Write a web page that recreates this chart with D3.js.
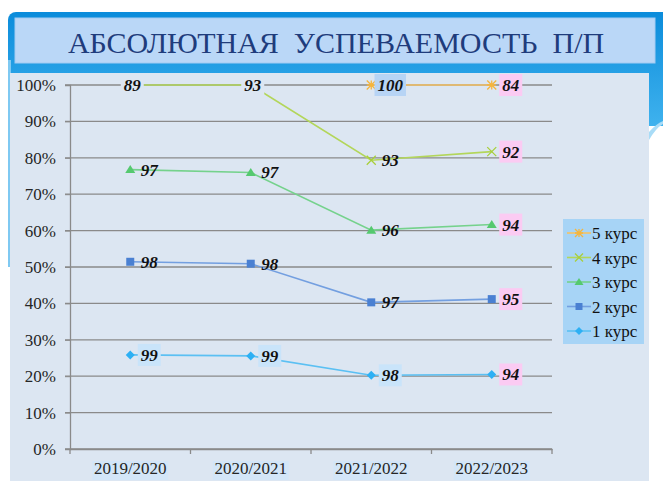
<!DOCTYPE html>
<html>
<head>
<meta charset="utf-8">
<script src="https://cdn.jsdelivr.net/npm/d3@7"></script>
<style>
  body { margin: 0; background: #fff; }
</style>
</head>
<body>
<div id="chart-area"></div>
<script>
// data
const years = ["2019/2020", "2020/2021", "2021/2022", "2022/2023"]
const kurs1 = [99, 99, 98, 94]
const kurs2 = [98, 98, 97, 95]
const kurs3 = [97, 97, 96, 94]
const kurs4 = [89, 93, 93, 92]
const kurs5 = [null, null, 100, 84]
const seriesNames = ["1 курс", "2 курс", "3 курс", "4 курс", "5 курс"]
const yTicks = [0, 0.1, 0.2, 0.3, 0.4, 0.5, 0.6, 0.7, 0.8, 0.9, 1]
const titleText = "АБСОЛЮТНАЯ  УСПЕВАЕМОСТЬ  П/П"

// label background per series / year
const labelBg = [
  ["#c9e4fa", "#c9e4fa", "#c9e4fa", "#fbcbf3"],
  [null, null, null, "#fbcbf3"],
  [null, null, null, "#fbcbf3"],
  ["#dce6f2", "#dce6f2", null, "#fbcbf3"],
  [null, null, "#b7d4f5", "#fbcbf3"]
]

const styles = [
  { marker: "diamond", color: "#2db0f4", line: "#5bc0f3" },
  { marker: "square", color: "#4a80d2", line: "#739fe0" },
  { marker: "triangle", color: "#55c96f", line: "#75d28c" },
  { marker: "x", color: "#a8cf3a", line: "#b3d65a" },
  { marker: "star", color: "#f5b53d", line: "#f5c264" }
]

const FONT = "'Times New Roman', Times, Tinos, 'Liberation Serif', 'Noto Serif', serif"
const W = 663, H = 481
const PLOT = { LEFT: 70, RIGHT: 552, TOP: 85, BOTTOM: 449 }

const svg = d3.select("#chart-area").append("svg")
  .attr("width", W)
  .attr("height", H)

// background frame
const defs = svg.append("defs")
const grad = defs.append("linearGradient")
  .attr("id", "frameGrad")
  .attr("x1", 0).attr("y1", 0).attr("x2", 0).attr("y2", 1)
grad.append("stop").attr("offset", "0%").attr("stop-color", "#0b8cdb")
grad.append("stop").attr("offset", "100%").attr("stop-color", "#3fb2ee")

svg.append("rect")
  .attr("x", 8).attr("y", 12)
  .attr("width", 680).attr("height", 114)
  .attr("rx", 8)
  .attr("fill", "url(#frameGrad)")

svg.append("rect")
  .attr("x", 8).attr("y", 60)
  .attr("width", 3).attr("height", 207)
  .attr("fill", "#7fc9f2")

// swoosh on the right
svg.append("path")
  .attr("d", "M649,132 Q656,124 663,121 L663,124 Q656,128 649,140 Z")
  .attr("fill", "#a9dcf7")

// title
svg.append("rect")
  .attr("x", 15).attr("y", 18)
  .attr("width", 640).attr("height", 45)
  .attr("fill", "#bad7f7")
  .attr("stroke", "#a3cbf2")

svg.append("text")
  .attr("x", 336).attr("y", 53)
  .attr("text-anchor", "middle")
  .style("white-space", "pre")
  .attr("font-family", FONT)
  .attr("font-size", "30px")
  .attr("fill", "#1f3c7c")
  .text(titleText)

// chart area
svg.append("rect")
  .attr("x", 10).attr("y", 73)
  .attr("width", 639).attr("height", 410)
  .attr("fill", "#dce6f2")

// scales
const x = d3.scaleBand().domain(years).range([PLOT.LEFT, PLOT.RIGHT])
const y = d3.scaleLinear().domain([0, 1]).range([PLOT.BOTTOM, PLOT.TOP])
const cx = d => x(d) + x.bandwidth() / 2

// 100% stacked values
const raw = [kurs1, kurs2, kurs3, kurs4, kurs5]
const table = years.map((yr, i) => {
  const row = { year: yr }
  seriesNames.forEach((s, k) => { row[s] = raw[k][i] || 0 })
  return row
})
const stacked = d3.stack().keys(seriesNames).offset(d3.stackOffsetExpand)(table)

// grid
const g = svg.append("g")
g.selectAll(".grid").data(yTicks).join("line")
  .attr("x1", PLOT.LEFT - 5).attr("x2", PLOT.RIGHT)
  .attr("y1", d => y(d)).attr("y2", d => y(d))
  .attr("stroke", "#8a8a8a")
  .attr("stroke-width", 1.3)

// axes
const yAxis = g.append("g")
  .attr("transform", `translate(${PLOT.LEFT},0)`)
  .call(d3.axisLeft(y).tickValues(yTicks).tickFormat(d3.format(".0%")).tickSize(5).tickPadding(9))
yAxis.attr("font-family", FONT)
yAxis.select(".domain").attr("stroke", "#8a8a8a").attr("stroke-width", 1.3)
yAxis.selectAll(".tick line").attr("stroke", "#8a8a8a")
yAxis.selectAll(".tick text")
  .attr("font-size", "17px")
  .attr("fill", "#262626")

const xAxis = g.append("g")
  .attr("transform", `translate(0,${PLOT.BOTTOM})`)
  .call(d3.axisBottom(x).tickSize(0).tickPadding(13))
xAxis.attr("font-family", FONT)
xAxis.select(".domain").attr("stroke", "#8a8a8a").attr("stroke-width", 1.3)
xAxis.selectAll(".tick text")
  .attr("font-size", "17px")
  .attr("fill", "#262626")
xAxis.selectAll(".tick").insert("rect", "text")
  .attr("x", -38).attr("y", 12)
  .attr("width", 76).attr("height", 19)
  .attr("fill", "#d3e6f8")
// category boundary ticks
g.selectAll(".xb").data(years.concat(["end"])).join("line")
  .attr("x1", (d, i) => PLOT.LEFT + i * x.bandwidth())
  .attr("x2", (d, i) => PLOT.LEFT + i * x.bandwidth())
  .attr("y1", PLOT.BOTTOM).attr("y2", PLOT.BOTTOM + 5)
  .attr("stroke", "#8a8a8a")
  .attr("stroke-width", 1.3)

// marker drawing
function drawMarker(sel, type, color, size) {
  const s = size / 2
  if (type === "diamond") {
    sel.append("path").attr("d", `M0,${-s}L${s},0L0,${s}L${-s},0Z`).attr("fill", color)
  } else if (type === "square") {
    sel.append("rect").attr("x", -s + 0.5).attr("y", -s + 0.5)
      .attr("width", size - 1).attr("height", size - 1).attr("fill", color)
  } else if (type === "triangle") {
    sel.append("path").attr("d", `M0,${-s}L${s + 0.5},${s - 1}L${-s - 0.5},${s - 1}Z`).attr("fill", color)
  } else if (type === "x") {
    sel.append("path").attr("d", `M${-s},${-s}L${s},${s}M${-s},${s}L${s},${-s}`)
      .attr("stroke", color).attr("stroke-width", 1.3).attr("fill", "none")
  } else if (type === "star") {
    sel.append("path").attr("d", `M${-s},${-s}L${s},${s}M${-s},${s}L${s},${-s}M0,${-s}L0,${s}M${-s},0L${s},0`)
      .attr("stroke", color).attr("stroke-width", 1.3).attr("fill", "none")
  }
}

const line = d3.line()
  .defined(d => d.defined)
  .x(d => cx(d.year))
  .y(d => y(d.v))

const pts = stacked.map((layer, k) => layer.map((d, i) => ({
  year: years[i], v: d[1], value: raw[k][i], defined: raw[k][i] !== null, k: k, i: i
})))

pts.forEach((p, k) => {
  g.append("path")
    .attr("fill", "none")
    .attr("stroke", styles[k].line)
    .attr("stroke-width", 1.6)
    .attr("d", line(p))
  p.filter(d => d.defined).forEach(d => {
    const m = g.append("g").attr("transform", `translate(${cx(d.year)},${y(d.v)})`)
    drawMarker(m, styles[k].marker, styles[k].color, 9)
  })
})

// data labels
pts.forEach((p, k) => {
  p.filter(d => d.defined).forEach(d => {
    const centered = k === 3 && d.i < 2
    const lx = centered ? cx(d.year) + 2 : cx(d.year) + 19
    const ly = y(d.v)
    const label = String(d.value)
    const w = label.length * 8.5 + 6
    const bg = labelBg[k][d.i]
    if (bg) {
      g.append("rect")
        .attr("x", lx - w / 2).attr("y", ly - 11)
        .attr("width", w).attr("height", 22)
        .attr("fill", bg)
    }
    g.append("text")
      .attr("x", lx).attr("y", ly + 6)
      .attr("text-anchor", "middle")
      .attr("font-family", FONT)
      .attr("font-size", "17px")
      .attr("font-weight", "bold")
      .attr("font-style", "italic")
      .attr("fill", "#111")
      .text(label)
  })
})

// legend
const legend = svg.append("g")
legend.append("rect")
  .attr("x", 563).attr("y", 219)
  .attr("width", 81).attr("height", 125)
  .attr("fill", "#a7d4f6")

const legendOrder = [4, 3, 2, 1, 0]
legendOrder.forEach((k, j) => {
  const ly = 233 + j * 24.5
  const item = legend.append("g").attr("transform", `translate(0,${ly})`)
  item.append("line")
    .attr("x1", 567).attr("x2", 591)
    .attr("stroke", styles[k].line).attr("stroke-width", 1.6)
  const m = item.append("g").attr("transform", "translate(579,0)")
  drawMarker(m, styles[k].marker, styles[k].color, 8)
  item.append("text")
    .attr("x", 592).attr("y", 6)
    .attr("font-family", FONT)
    .attr("font-size", "17px")
    .attr("fill", "#111")
    .text(seriesNames[k])
})
</script>
</body>
</html>
